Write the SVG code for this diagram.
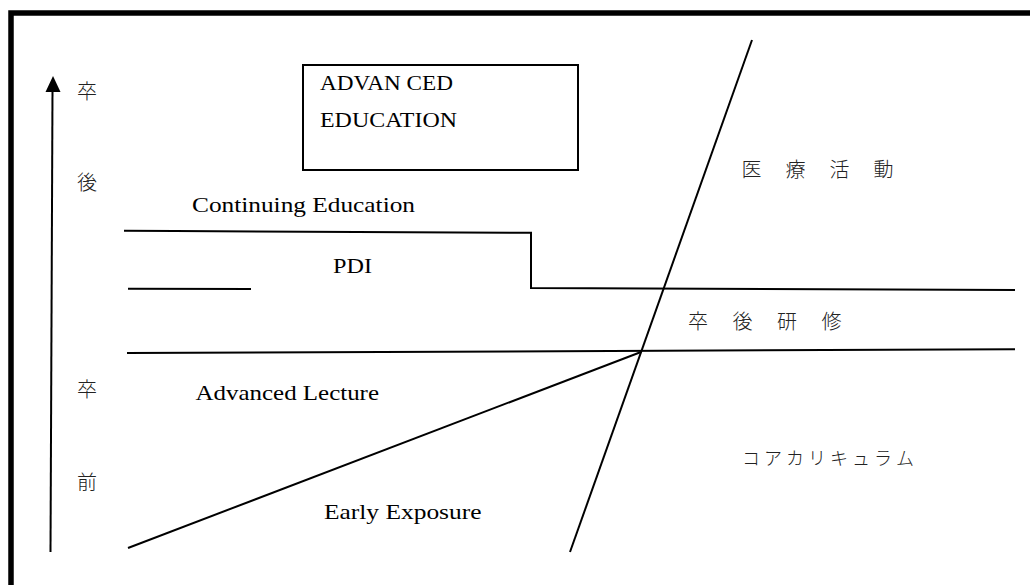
<svg xmlns="http://www.w3.org/2000/svg" width="1030" height="585" viewBox="0 0 1030 585">
<style>
.bg{fill:#ffffff}
.frame{fill:none;stroke:#000;stroke-width:5.5}
.ln{fill:none;stroke:#000;stroke-width:2;stroke-linejoin:miter}
.box{fill:#fff;stroke:#000;stroke-width:2}
.en{font-family:"Liberation Serif","DejaVu Serif",serif;font-size:22px;fill:#000}
.jp{font-family:"Noto Sans CJK JP","Noto Sans CJK SC",sans-serif;font-size:20px;fill:#222;font-weight:300}
.kana{font-family:"Noto Sans CJK JP","Noto Sans CJK SC",sans-serif;font-size:18px;fill:#222;font-weight:300}
</style>
<rect class="bg" x="0" y="0" width="1030" height="585"/>
<path class="frame" d="M11 585 V13 H1030"/>
<g id="connectors">
  <line class="ln" x1="50.5" y1="552" x2="52.5" y2="90"/>
  <polygon points="53,76 45.5,92 60.5,92" fill="#000"/>
  <polyline class="ln" points="124,230.7 175,231 531,232.8 531,288 1015,290"/>
  <line class="ln" x1="128" y1="288.8" x2="251" y2="289"/>
  <line class="ln" x1="127" y1="353" x2="1015" y2="349.3"/>
  <line class="ln" x1="128" y1="548" x2="641" y2="352"/>
  <line class="ln" x1="752" y1="40" x2="570" y2="552"/>
</g>
<g id="node-advanced-education">
  <rect class="box" x="303" y="65" width="275" height="105"/>
  <text class="en" x="320" y="90" textLength="133" lengthAdjust="spacingAndGlyphs">ADVAN CED</text>
  <text class="en" x="320" y="127" textLength="137" lengthAdjust="spacingAndGlyphs">EDUCATION</text>
</g>
<g id="node-continuing-education">
  <text class="en" x="192" y="211.5" textLength="223" lengthAdjust="spacingAndGlyphs">Continuing Education</text>
</g>
<g id="node-pdi">
  <text class="en" x="333" y="273" textLength="39" lengthAdjust="spacingAndGlyphs">PDI</text>
</g>
<g id="node-advanced-lecture">
  <text class="en" x="195.5" y="400" textLength="183.5" lengthAdjust="spacingAndGlyphs">Advanced Lecture</text>
</g>
<g id="node-early-exposure">
  <text class="en" x="324" y="519.3" textLength="157.5" lengthAdjust="spacingAndGlyphs">Early Exposure</text>
</g>
<g id="node-axis-labels">
  <text class="jp" x="77" y="98.5">卒</text>
  <text class="jp" x="77" y="190">後</text>
  <text class="jp" x="77" y="397">卒</text>
  <text class="jp" x="77" y="489.5">前</text>
</g>
<g id="node-iryo-katsudo">
  <text class="jp" x="741.5 785.5 829.5 873.5" y="177">医療活動</text>
</g>
<g id="node-sotsugo-kenshu">
  <text class="jp" x="688 732.5 777 821.5" y="328.5">卒後研修</text>
</g>
<g id="node-core-curriculum">
  <text class="kana" x="742 764 786 808 830 852 874 896" y="465">コアカリキュラム</text>
</g>
</svg>
